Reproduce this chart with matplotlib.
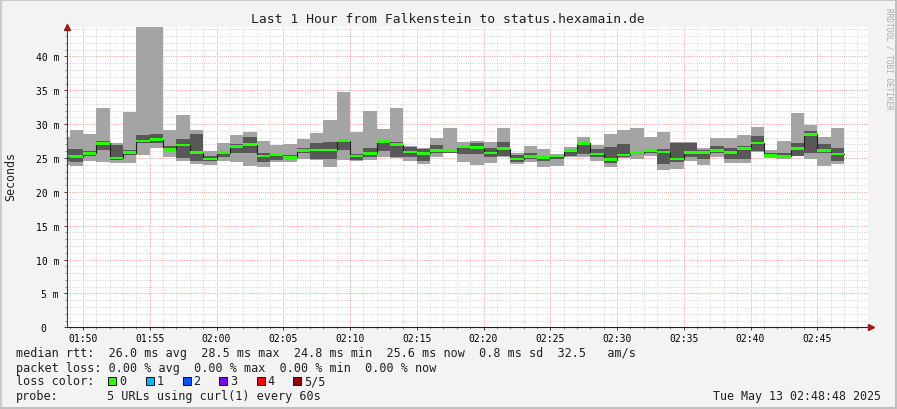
import numpy as np
import pandas as pd
import matplotlib
matplotlib.use("Agg")
import matplotlib.pyplot as plt
import matplotlib.dates as mdates
from matplotlib.ticker import FixedLocator, MultipleLocator
from matplotlib.lines import Line2D
from matplotlib.patches import Rectangle

# ---------------- data (ms) ----------------
bar_start = pd.date_range("2025-05-13 01:48", periods=59, freq="min")
p_max = [28.1, 29.1, 28.5, 32.4, 27.2, 31.8, 45.0, 45.0, 29.1, 31.3,
         29.1, 26.1, 27.2, 28.4, 28.9, 27.5, 26.9, 27.05, 27.8, 28.7,
         30.6, 34.8, 28.9, 32.0, 29.3, 32.4, 26.8, 26.55, 27.95, 29.4,
         27.3, 27.55, 27.3, 29.4, 25.8, 26.7, 26.3, 25.6, 26.65, 28.05,
         26.9, 28.5, 29.1, 29.4, 28.05, 28.9, 27.3, 27.3, 26.45, 27.95,
         27.95, 28.4, 29.65, 26.15, 27.55, 31.6, 29.85, 28.05, 29.4]
p_hi = [26.3, 26.3, 26.1, 27.45, 26.9, 26.2, 28.4, 28.6, 26.7, 27.8,
        28.6, 25.3, 26.1, 27.05, 28.1, 25.7, 25.7, 25.4, 26.55, 27.2,
        27.4, 27.7, 25.6, 26.45, 27.6, 27.3, 26.65, 26.3, 26.95, 26.3,
        26.8, 27.15, 26.45, 27.3, 25.4, 25.7, 25.3, 25.45, 26.4, 27.3,
        26.3, 26.65, 27.05, 26.1, 26.3, 26.4, 27.2, 27.2, 26.15, 26.8,
        26.45, 26.8, 28.3, 25.7, 25.7, 27.15, 29.0, 27.05, 26.45]
median = [25.3, 25.2, 25.7, 27.15, 25.0, 25.8, 27.5, 27.7, 26.3, 26.9,
          25.8, 24.85, 25.8, 26.65, 26.95, 25.3, 25.5, 25.1, 26.1, 26.2,
          26.2, 27.55, 25.3, 25.7, 27.4, 26.95, 25.9, 25.7, 26.1, 26.15,
          26.7, 26.5, 25.75, 26.4, 24.85, 25.25, 25.05, 25.3, 26.1, 27.15,
          25.6, 24.75, 25.45, 25.8, 26.1, 25.9, 24.85, 25.8, 25.8, 26.15,
          25.8, 26.45, 27.2, 25.4, 25.25, 26.45, 28.5, 26.15, 25.6]
p_lo = [24.6, 24.35, 25.3, 26.2, 24.7, 25.4, 27.2, 27.2, 26.0, 25.0,
        24.6, 24.5, 25.2, 25.8, 25.7, 24.35, 24.75, 24.85, 25.8, 24.85,
        24.85, 26.2, 24.7, 25.1, 26.1, 25.1, 25.2, 24.6, 25.8, 25.8,
        25.6, 25.6, 25.1, 25.3, 24.45, 24.85, 24.6, 24.85, 25.3, 25.6,
        25.1, 24.2, 25.2, 25.6, 25.8, 24.1, 24.35, 25.1, 24.85, 25.7,
        24.85, 24.85, 26.1, 25.1, 25.0, 25.3, 25.8, 25.8, 24.6]
p_min = [23.9, 23.85, 24.5, 24.45, 24.2, 24.2, 25.5, 26.5, 25.1, 24.6,
         24.1, 24.0, 24.6, 24.45, 23.85, 23.7, 24.45, 24.45, 24.85, 24.7,
         23.7, 24.7, 24.6, 24.75, 25.1, 25.0, 24.6, 24.1, 25.1, 25.7,
         24.45, 24.0, 24.25, 25.1, 24.1, 24.35, 23.6, 23.85, 25.2, 25.2,
         24.6, 23.6, 24.95, 24.85, 25.3, 23.2, 23.35, 24.6, 24.0, 25.2,
         24.25, 24.25, 25.9, 25.0, 24.9, 25.25, 24.85, 23.85, 24.1]

ytick_values = [0, 5, 10, 15, 20, 25, 30, 35, 40]
ytick_labels = ["0  ", "5 m", "10 m", "15 m", "20 m", "25 m", "30 m", "35 m", "40 m"]

title = "Last 1 Hour from Falkenstein to status.hexamain.de"
legend_rtt = "median rtt:  26.0 ms avg  28.5 ms max  24.8 ms min  25.6 ms now  0.8 ms sd  32.5   am/s"
legend_loss = "packet loss: 0.00 % avg  0.00 % max  0.00 % min  0.00 % now"
loss_labels = ["0", "1", "2", "3", "4", "5/5"]
loss_colors = ["#26ff00", "#00b8ff", "#0059ff", "#7e00ff", "#ff0000", "#a10000"]
probe_text = "5 URLs using curl(1) every 60s"
stamp = "Tue May 13 02:48:48 2025"

# ---------------- figure ----------------
W, H = 897, 410
MONO = "DejaVu Sans Mono"
fig = plt.figure(figsize=(W / 100, H / 100), dpi=100, facecolor="#f3f3f3")
x0, x1, ytop, ybot = 67, 868, 28.3, 328.3
ax = fig.add_axes([x0 / W, 1 - ybot / H, (x1 - x0) / W, (ybot - ytop) / H])
ax.set_facecolor("white")

def ext(a):
    a = np.asarray(a, float)
    return np.append(a, a[-1])

edges = bar_start.append(pd.DatetimeIndex([bar_start[-1] + pd.Timedelta(minutes=1)]))

ax.fill_between(edges, ext(p_min), ext(p_max), step="post", color="#a4a4a4", lw=0, zorder=1)
ax.fill_between(edges, ext(p_lo), ext(p_hi), step="post", color="#585858", lw=0, zorder=2)
ax.step(edges, ext(median), where="post", color="#202020", lw=0.8, zorder=3)
sw = 0.2
med = ext(median)
ax.fill_between(edges, med - sw, med + sw, step="post", color="#26ff00", lw=0, zorder=4)

ax.set_xlim(pd.Timestamp("2025-05-13 01:48:48"), pd.Timestamp("2025-05-13 02:48:48"))
ax.set_ylim(0, 44.3)

ax.xaxis.set_major_locator(mdates.MinuteLocator(byminute=range(0, 60, 5)))
ax.xaxis.set_major_formatter(mdates.DateFormatter("%H:%M"))
ax.xaxis.set_minor_locator(mdates.MinuteLocator())
ax.yaxis.set_major_locator(FixedLocator(ytick_values))
ax.set_yticklabels(ytick_labels)
ax.yaxis.set_minor_locator(MultipleLocator(1))

dot = (0, (1, 1.2))
ax.set_axisbelow(True)
ax.grid(which="minor", color="#d6d6d6", linestyle=dot, lw=0.72)
ax.grid(which="major", color="#f2a4a4", linestyle=dot, lw=0.72)

for s in ("top", "right"):
    ax.spines[s].set_visible(False)
ax.spines["left"].set_color("#404040")
ax.spines["bottom"].set_color("#202020")
ax.spines["left"].set_linewidth(0.8)
ax.spines["bottom"].set_linewidth(0.8)
ax.spines["left"].set_zorder(10)
ax.spines["bottom"].set_zorder(10)

ax.tick_params(which="major", length=2.2, width=0.7, color="#404040",
               labelsize=7, pad=3.5)
ax.tick_params(axis="x", which="major", pad=2.2)
ax.tick_params(which="minor", length=1.4, width=0.6, color="#808080")
for lab in ax.get_xticklabels() + ax.get_yticklabels():
    lab.set_family(MONO)

# arrows
ax.plot([0], [1.0], marker="^", ms=4.5, color="#a01818", transform=ax.transAxes,
        clip_on=False, zorder=11)
ax.plot([1.004], [0], marker=">", ms=4.5, color="#a01818", transform=ax.transAxes,
        clip_on=False, zorder=11)

def ftext(x, y, s, **kw):
    kw.setdefault("family", MONO)
    kw.setdefault("va", "center")
    fig.text(x / W, 1 - y / H, s, **kw)

ftext(448, 19.3, title, ha="center", fontsize=9.4, color="#202020")
ftext(11, 177, "Seconds", ha="center", rotation=90, fontsize=8.4, color="#202020")
ftext(889, 59, "RRDTOOL / TOBI OETIKER", ha="center", rotation=270,
      fontsize=5.6, color="#aaaaaa")

ftext(16, 354, legend_rtt, fontsize=8.5, color="#202020")
ftext(16, 368.3, legend_loss, fontsize=8.5, color="#202020")
ftext(16, 381.7, "loss color:", fontsize=8.5, color="#202020")
box_x = [108.3, 145.7, 182.7, 219.3, 256.7, 293.3]
lab_x = [118.8, 156.5, 193.2, 230.5, 267.2, 303.8]
for bx, lx, lab, col in zip(box_x, lab_x, loss_labels, loss_colors):
    fig.add_artist(Rectangle((bx / W, 1 - 385.7 / H), 8 / W, 8 / H,
                             transform=fig.transFigure, facecolor=col,
                             edgecolor="#101010", lw=0.7))
    ftext(lx, 381.7, lab, fontsize=8.5, color="#202020")
ftext(16, 396.7, "probe:", fontsize=8.5, color="#202020")
ftext(107.3, 396.7, probe_text, fontsize=8.5, color="#202020")
ftext(880.7, 396.7, stamp, ha="right", fontsize=8.4, color="#202020")

# 3d border
fig.add_artist(Line2D([0, 1], [1 - 1 / H, 1 - 1 / H], transform=fig.transFigure, color="#cbcbcb", lw=1.5))
fig.add_artist(Line2D([1 / W, 1 / W], [0, 1], transform=fig.transFigure, color="#cbcbcb", lw=1.5))
fig.add_artist(Line2D([0, 1], [1 / H, 1 / H], transform=fig.transFigure, color="#c0c0c0", lw=1.5))
fig.add_artist(Line2D([1 - 1 / W, 1 - 1 / W], [0, 1], transform=fig.transFigure, color="#c0c0c0", lw=1.5))

fig.savefig("out.png", dpi=100, facecolor=fig.get_facecolor())
